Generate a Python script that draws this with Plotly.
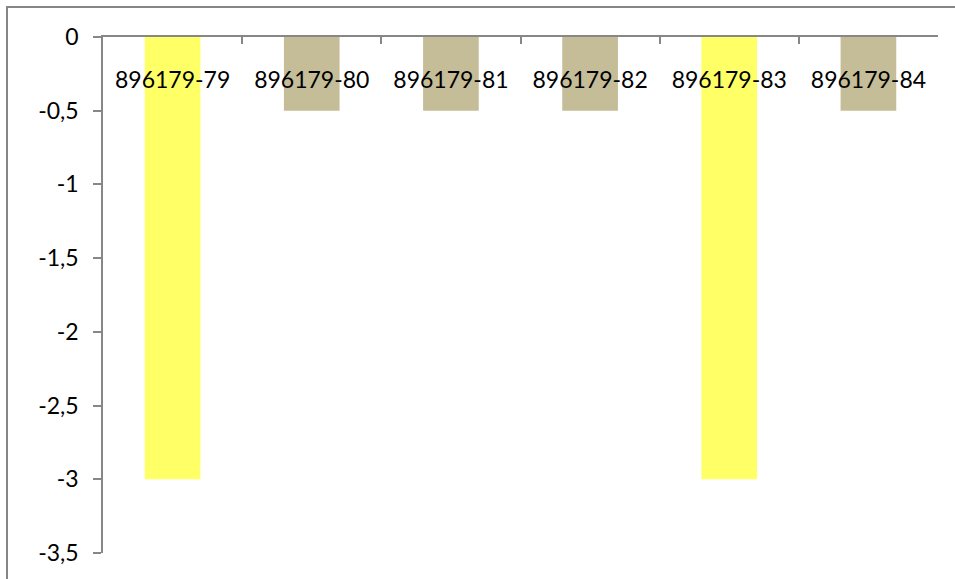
import plotly.graph_objects as go

categories = ["896179-79", "896179-80", "896179-81", "896179-82", "896179-83", "896179-84"]
values = [-3, -0.5, -0.5, -0.5, -3, -0.5]
bar_colors = ["#FFFF66", "#C4BD97", "#C4BD97", "#C4BD97", "#FFFF66", "#C4BD97"]
y_tickvals = [0, -0.5, -1, -1.5, -2, -2.5, -3, -3.5]
y_ticktext = ["0", "-0,5", "-1", "-1,5", "-2", "-2,5", "-3", "-3,5"]

W, H = 955, 579
L, R, T, B = 103, 17, 37, 26
pw, ph = W - L - R, H - T - B

fig = go.Figure()
fig.add_trace(go.Bar(x=categories, y=values, marker=dict(color=bar_colors, line=dict(width=0)),
                     width=0.4, hoverinfo="x+y"))
# invisible helper trace carrying the category labels drawn inside the plot area
fig.add_trace(go.Scatter(x=categories, y=values, xaxis="x2", yaxis="y", mode="markers",
                         marker=dict(opacity=0), hoverinfo="skip", showlegend=False))

axis_col = "#878787"
font_family = "Lato, Carlito, Calibri, sans-serif"
fig.update_layout(
    width=W, height=H,
    margin=dict(l=L, r=R, t=T, b=B),
    plot_bgcolor="white", paper_bgcolor="white",
    font=dict(family=font_family, size=23, color="black"),
    showlegend=False,
    xaxis=dict(
        side="top", type="category", showgrid=False, zeroline=False,
        showline=True, linecolor=axis_col, linewidth=1.5,
        ticks="inside", tickson="boundaries", ticklen=7, tickcolor=axis_col, tickwidth=1.5,
        showticklabels=False, range=[-0.5, 5.5], fixedrange=True,
    ),
    xaxis2=dict(
        overlaying="x", anchor="free", position=1, side="bottom", type="category",
        showgrid=False, zeroline=False, showline=False, ticks="",
        range=[-0.5, 5.5], ticklabelstandoff=27, fixedrange=True,
        tickfont=dict(family=font_family, size=23, color="black"),
    ),
    yaxis=dict(
        range=[-3.5, 0], showgrid=False, zeroline=False,
        showline=True, linecolor=axis_col, linewidth=1.5,
        ticks="outside", ticklen=8, tickcolor=axis_col, tickwidth=1.5,
        tickvals=y_tickvals, ticktext=y_ticktext, ticklabelstandoff=10,
        tickfont=dict(family=font_family, size=23, color="black"), fixedrange=True,
    ),
    shapes=[dict(
        type="rect", xref="paper", yref="paper",
        x0=(7 - L) / pw, x1=(W + 5 - L) / pw,
        y0=-(H + 5 - T - ph) / ph, y1=1 + (T - 7) / ph,
        line=dict(color="#868686", width=2), layer="below",
    )],
)

fig.write_html("out.html", config={"displayModeBar": False},
               post_script="document.body.style.margin='0px';")
